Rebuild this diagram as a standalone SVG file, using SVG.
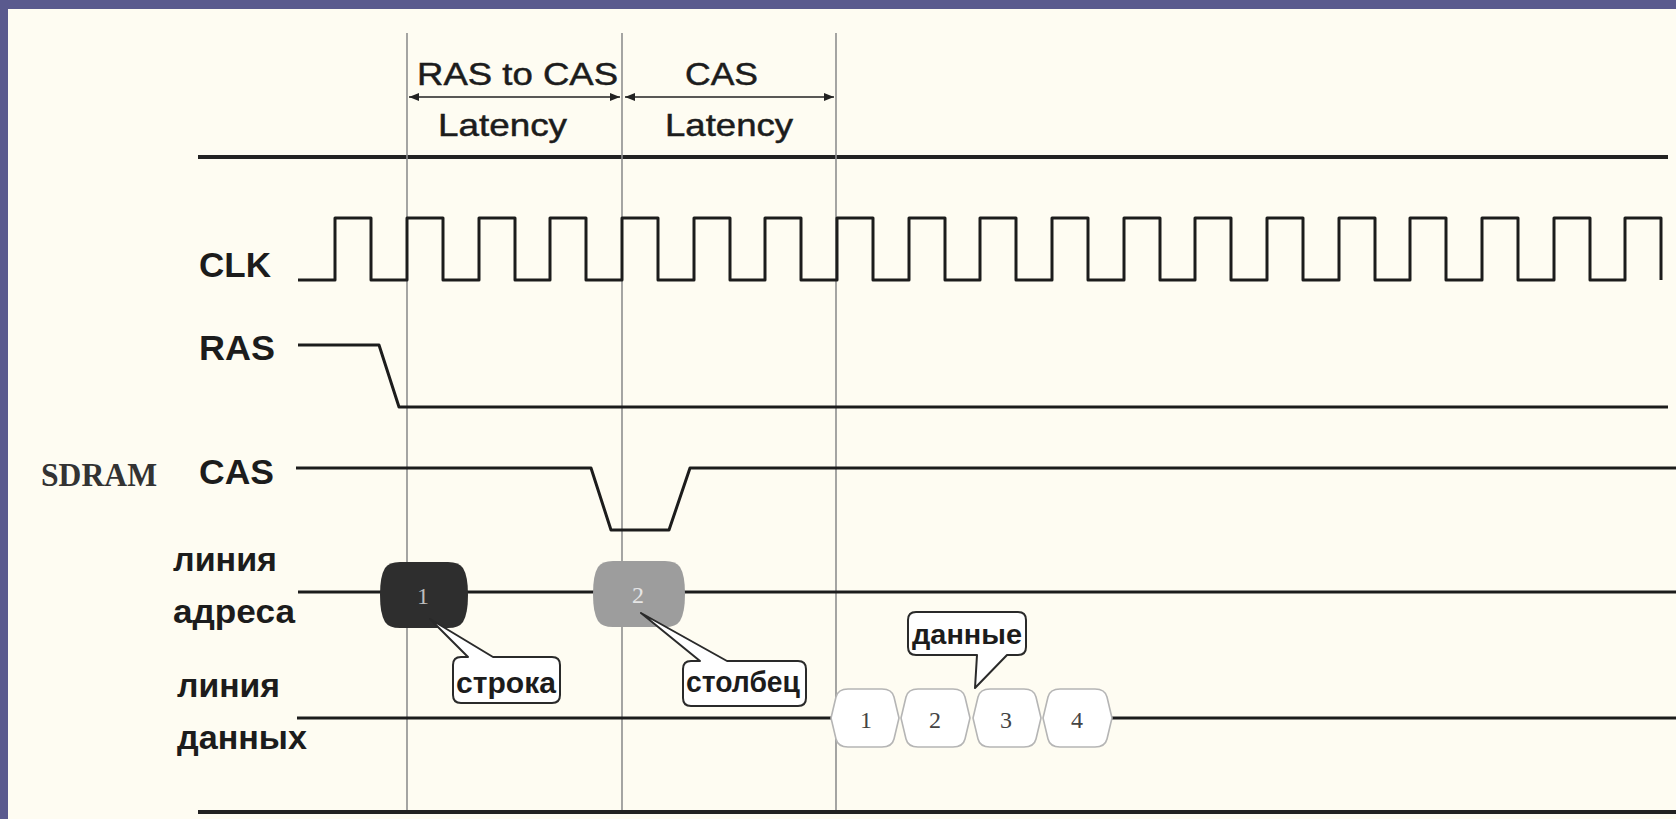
<svg xmlns="http://www.w3.org/2000/svg" width="1676" height="819" viewBox="0 0 1676 819">
<style>
.lbl{font-family:"Liberation Sans",Arial,sans-serif;font-weight:bold;fill:#1c1c1c}
.top{font-family:"Liberation Sans",Arial,sans-serif;font-size:32px;fill:#1c1c1c;stroke:#1c1c1c;stroke-width:0.5}
.sig{fill:none;stroke:#1c1c1c;stroke-width:3;stroke-linejoin:round}
.rule{fill:none;stroke:#222;stroke-width:4}
.vline{stroke:#8e8e8e;stroke-width:1.6}
.dim{stroke:#222;stroke-width:1.6}
.call{fill:#fff;stroke:#2a2a2a;stroke-width:2;stroke-linejoin:round}
.dbub{fill:#fff;stroke:#b5b5b5;stroke-width:1.6}
.num{font-family:"Liberation Serif","Times New Roman",serif;font-size:24px;text-anchor:middle}
</style>
<defs>
<marker id="ah" viewBox="0 0 10 8" refX="10" refY="4" markerWidth="10" markerHeight="8" markerUnits="userSpaceOnUse" orient="auto-start-reverse">
<path d="M0,0 L10,4 L0,8 Z" fill="#222"/>
</marker>
</defs>
<rect x="0" y="0" width="1676" height="819" fill="#5a5a8e"/>
<rect x="8" y="9" width="1668" height="810" fill="#fefcf2"/>

<g id="rules">
<line class="rule" x1="198" y1="157" x2="1668" y2="157"/>
<line class="rule" x1="198" y1="812" x2="1676" y2="812"/>
</g>

<g id="guides">
<line class="vline" x1="407" y1="33" x2="407" y2="810"/>
<line class="vline" x1="622" y1="33" x2="622" y2="810"/>
<line class="vline" x1="836" y1="33" x2="836" y2="810"/>
</g>

<g id="latency-labels">
<text class="top" x="417" y="85" textLength="201" lengthAdjust="spacingAndGlyphs">RAS to CAS</text>
<text class="top" x="438" y="136" textLength="129" lengthAdjust="spacingAndGlyphs">Latency</text>
<text class="top" x="685" y="85" textLength="73" lengthAdjust="spacingAndGlyphs">CAS</text>
<text class="top" x="665" y="136" textLength="128" lengthAdjust="spacingAndGlyphs">Latency</text>
</g>

<g id="connectors">
<line class="dim" x1="409" y1="97" x2="620" y2="97" marker-start="url(#ah)" marker-end="url(#ah)"/>
<line class="dim" x1="625" y1="97" x2="834" y2="97" marker-start="url(#ah)" marker-end="url(#ah)"/>
</g>

<g id="signal-labels">
<text class="lbl" x="199" y="277" font-size="35" textLength="72" lengthAdjust="spacingAndGlyphs">CLK</text>
<text class="lbl" x="199" y="360" font-size="35" textLength="76" lengthAdjust="spacingAndGlyphs">RAS</text>
<text class="lbl" x="199" y="484" font-size="35" textLength="75" lengthAdjust="spacingAndGlyphs">CAS</text>
<text x="41" y="486" font-family="'Liberation Serif','Times New Roman',serif" font-weight="bold" font-size="34" fill="#333" textLength="116" lengthAdjust="spacingAndGlyphs">SDRAM</text>
<text class="lbl" x="173" y="571" font-size="33" textLength="104" lengthAdjust="spacingAndGlyphs">линия</text>
<text class="lbl" x="173" y="623" font-size="33" textLength="122" lengthAdjust="spacingAndGlyphs">адреса</text>
<text class="lbl" x="177" y="697" font-size="33" textLength="103" lengthAdjust="spacingAndGlyphs">линия</text>
<text class="lbl" x="177" y="749" font-size="33" textLength="130" lengthAdjust="spacingAndGlyphs">данных</text>
</g>

<g id="clk">
<path class="sig" d="M298,280 H335 V218 H371 V280 H407 V218 H443 V280 H479 V218 H515 V280 H550 V218 H586 V280 H622 V218 H658 V280 H694 V218 H730 V280 H765 V218 H801 V280 H837 V218 H873 V280 H909 V218 H945 V280 H980 V218 H1016 V280 H1052 V218 H1088 V280 H1124 V218 H1160 V280 H1195 V218 H1231 V280 H1267 V218 H1303 V280 H1339 V218 H1375 V280 H1410 V218 H1446 V280 H1482 V218 H1518 V280 H1554 V218 H1590 V280 H1625 V218 H1661 V280"/>
</g>

<g id="ras">
<path class="sig" d="M298,345 H379 L399,407 H1668"/>
</g>

<g id="cas">
<path class="sig" d="M296,468 H591 L611,530 H669 L690,468 H1676"/>
</g>

<g id="address-line">
<path class="sig" d="M298,592 H382 M466,592 H595 M683,592 H1676"/>
</g>

<g id="addr-1">
<path d="M380,595 Q380,576 385,568 Q389,562 400,562 L448,562 Q459,562 463,568 Q468,576 468,595 Q468,614 463,622 Q459,628 448,628 L400,628 Q389,628 385,622 Q380,614 380,595 Z" fill="#2e2e2e"/>
<text class="num" x="423" y="604" font-size="28" fill="#bdbdbd">1</text>
</g>

<g id="addr-2">
<path d="M593,594 Q593,575 598,567 Q602,561 613,561 L665,561 Q676,561 680,567 Q685,575 685,594 Q685,613 680,621 Q676,627 665,627 L613,627 Q602,627 598,621 Q593,613 593,594 Z" fill="#9d9d9d"/>
<text class="num" x="638" y="603" font-size="28" fill="#e6e6e6">2</text>
</g>

<g id="callout-row">
<path class="call" d="M461,657 H468 L430,619 L493,657 H552 Q560,657 560,665 V695 Q560,703 552,703 H461 Q453,703 453,695 V665 Q453,657 461,657 Z"/>
<text class="lbl" x="456" y="693" font-size="30" textLength="100" lengthAdjust="spacingAndGlyphs">строка</text>
</g>

<g id="callout-col">
<path class="call" d="M691,661 H700 L641,613 L727,661 H798 Q806,661 806,669 V698 Q806,706 798,706 H691 Q683,706 683,698 V669 Q683,661 691,661 Z"/>
<text class="lbl" x="686" y="692" font-size="29" textLength="114" lengthAdjust="spacingAndGlyphs">столбец</text>
</g>

<g id="data-line">
<path class="sig" d="M297,718 H831 M1112,718 H1676"/>
</g>

<g id="data-1">
<path class="dbub" d="M831,718 L836,697 Q838,689 848,689 L882,689 Q892,689 894,697 L899,718 L894,739 Q892,747 882,747 L848,747 Q838,747 836,739 Z"/>
<text class="num" x="866" y="728" fill="#444">1</text>
</g>
<g id="data-2">
<path class="dbub" d="M901,718 L906,697 Q908,689 918,689 L953,689 Q963,689 965,697 L970,718 L965,739 Q963,747 953,747 L918,747 Q908,747 906,739 Z"/>
<text class="num" x="935" y="728" fill="#444">2</text>
</g>
<g id="data-3">
<path class="dbub" d="M973,718 L978,697 Q980,689 990,689 L1024,689 Q1034,689 1036,697 L1041,718 L1036,739 Q1034,747 1024,747 L990,747 Q980,747 978,739 Z"/>
<text class="num" x="1006" y="728" fill="#444">3</text>
</g>
<g id="data-4">
<path class="dbub" d="M1043,718 L1048,697 Q1050,689 1060,689 L1095,689 Q1105,689 1107,697 L1112,718 L1107,739 Q1105,747 1095,747 L1060,747 Q1050,747 1048,739 Z"/>
<text class="num" x="1077" y="728" fill="#444">4</text>
</g>

<g id="callout-data">
<path class="call" d="M916,612 H1018 Q1026,612 1026,620 V647 Q1026,655 1018,655 H1007 L975,688 L977,655 H916 Q908,655 908,647 V620 Q908,612 916,612 Z"/>
<text class="lbl" x="912" y="644" font-size="28" textLength="110" lengthAdjust="spacingAndGlyphs">данные</text>
</g>
</svg>
